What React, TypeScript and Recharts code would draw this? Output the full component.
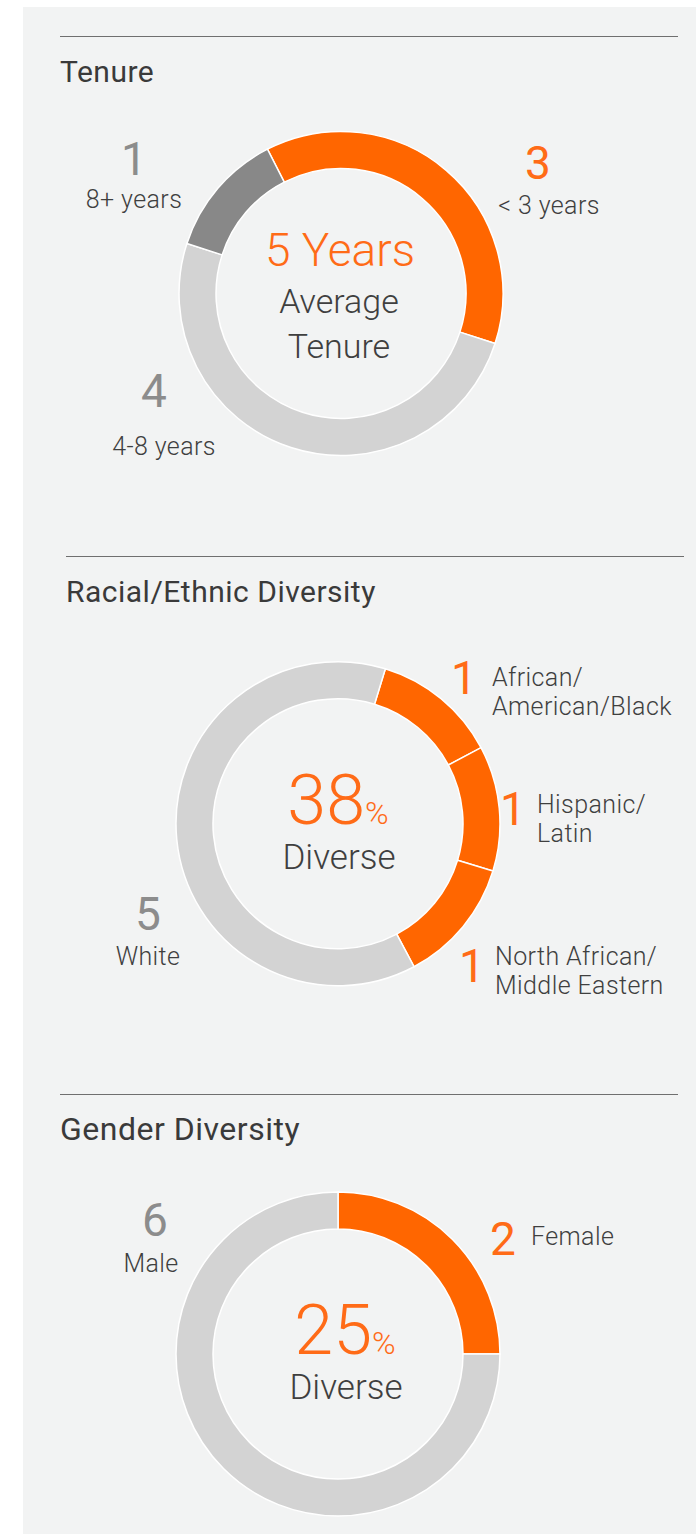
import React from "react";
import { PieChart, Pie, Cell } from "recharts";

// ---- data ----
const tenureNames = ["< 3 years", "4-8 years", "8+ years"];
const tenureValues = [3, 4, 1];
const tenureAverage = 5;

const racialNames = ["African/\nAmerican/Black", "Hispanic/\nLatin", "North African/\nMiddle Eastern", "White"];
const racialValues = [1, 1, 1, 5];

const genderNames = ["Female", "Male"];
const genderValues = [2, 6];

const ORANGE = "#ff6600";
const ORANGE_TEXT = "#ff6b17";
const LIGHT = "#d3d3d3";
const DARK = "#888888";
const GRAY_TEXT = "#8c8c8c";
const TEXT = "#3f3f3f";
const FONT = "Roboto, 'Noto Sans', sans-serif";

const tenureColors = [ORANGE, LIGHT, DARK];
const racialColors = [ORANGE, ORANGE, ORANGE, LIGHT];
const genderColors = [ORANGE, LIGHT];

// label placement (page pixels): number, then name
type Spot = { nx: number; ny: number; tx: number; ty: number; anchor: "start" | "middle" };
const tenureSpots: Spot[] = [
  { nx: 538, ny: 179, tx: 549, ty: 214, anchor: "middle" },
  { nx: 154, ny: 407, tx: 164, ty: 455, anchor: "middle" },
  { nx: 134, ny: 175, tx: 134, ty: 208, anchor: "middle" },
];
const racialSpots: Spot[] = [
  { nx: 464, ny: 694, tx: 492, ty: 686, anchor: "start" },
  { nx: 513, ny: 825, tx: 537, ty: 813, anchor: "start" },
  { nx: 472, ny: 982, tx: 495, ty: 965, anchor: "start" },
  { nx: 148, ny: 930, tx: 148, ty: 965, anchor: "middle" },
];
const genderSpots: Spot[] = [
  { nx: 503, ny: 1255, tx: 531, ty: 1245, anchor: "start" },
  { nx: 155, ny: 1236, tx: 151, ty: 1272, anchor: "middle" },
];

const build = (names: string[], values: number[]) =>
  names.map((name, i) => ({ name, value: values[i] }));

const makeLabel =
  (spots: Spot[], colors: string[], center: (cx: number, cy: number) => React.ReactNode) =>
  (props: any) => {
    const i = props.index;
    const s = spots[i];
    const lines = String(props.name).split("\n");
    return (
      <g key={"l" + i} fontFamily={FONT}>
        {i === 0 ? center(props.cx, props.cy) : null}
        <text x={s.nx} y={s.ny} textAnchor="middle" fontSize={46} fontWeight={400}
          fill={colors[i] === ORANGE ? ORANGE_TEXT : GRAY_TEXT}>
          {props.value}
        </text>
        <text x={s.tx} y={s.ty} textAnchor={s.anchor} fontSize={25} fontWeight={300}
          letterSpacing={0.4} fill={TEXT}>
          {lines.map((ln, k) => (
            <tspan key={k} x={s.tx} dy={k === 0 ? 0 : 28.5}>{ln}</tspan>
          ))}
        </text>
      </g>
    );
  };

const share = (values: number[], n: number) => {
  const total = values.reduce((a, b) => a + b, 0);
  const part = values.slice(0, n).reduce((a, b) => a + b, 0);
  return Math.round((part / total) * 100);
};

const Title = ({ x, y, x2, label, ty, size = 30 }: { x: number; y: number; x2: number; label: string; ty: number; size?: number }) => (
  <>
    <div style={{ position: "absolute", left: x, top: y, width: x2 - x, height: 1, background: "#6f6f6f" }} />
    <div style={{ position: "absolute", left: x, top: ty, fontSize: size, lineHeight: size + "px", letterSpacing: 0.5, color: "#3a3a3a", fontFamily: FONT, whiteSpace: "nowrap" }}>
      {label}
    </div>
  </>
);

const tenureCenter = (cx: number, cy: number) => (
  <g textAnchor="middle" fontWeight={300}>
    <text x={cx - 1} y={cy - 27.5} fontSize={46} fill={ORANGE_TEXT}>{tenureAverage} Years</text>
    <text x={cx - 2} y={cy + 19.5} fontSize={34} fill={TEXT}>Average</text>
    <text x={cx - 2} y={cy + 64.5} fontSize={34} fill={TEXT}>Tenure</text>
  </g>
);

const pctCenter = (pct: number, dx: number) => (cx: number, cy: number) => (
  <g textAnchor="middle" fontWeight={300}>
    <text x={cx + dx} y={cy} fill={ORANGE_TEXT}>
      <tspan fontSize={70}>{pct}</tspan>
      <tspan fontSize={32}>%</tspan>
    </text>
    <text x={cx + dx + 1} y={cy + 45} fontSize={35} fill={TEXT}>Diverse</text>
  </g>
);

export default function App() {
  const tenureData = build(tenureNames, tenureValues);
  const racialData = build(racialNames, racialValues);
  const genderData = build(genderNames, genderValues);
  const racialPct = share(racialValues, 3);
  const genderPct = share(genderValues, 1);

  return (
    <div style={{ position: "absolute", left: 0, top: 0, width: 696, height: 1535, background: "#fff", overflow: "hidden" }}>
      <div style={{ position: "absolute", left: 23, top: 7, width: 673, height: 1527, background: "#f2f3f3" }} />
      <Title x={60} y={36} x2={678} label="Tenure" ty={57} />
      <Title x={66} y={556} x2={684} label="Racial/Ethnic Diversity" ty={577} />
      <Title x={60} y={1094} x2={678} label="Gender Diversity" ty={1113} size={32} />
      <div style={{ position: "absolute", left: 0, top: 0 }}>
        <PieChart width={696} height={1535} margin={{ top: 0, right: 0, bottom: 0, left: 0 }}>
          <Pie data={tenureData} dataKey="value" nameKey="name" cx={341} cy={293.5}
            innerRadius={125} outerRadius={162} startAngle={117} endAngle={-243}
            stroke="#ffffff" strokeWidth={1.5} isAnimationActive={false}
            labelLine={false} label={makeLabel(tenureSpots, tenureColors, tenureCenter)}>
            {tenureData.map((d, i) => <Cell key={d.name} fill={tenureColors[i]} />)}
          </Pie>
          <Pie data={racialData} dataKey="value" nameKey="name" cx={338} cy={823.7}
            innerRadius={125} outerRadius={162} startAngle={73} endAngle={-287}
            stroke="#ffffff" strokeWidth={1.5} isAnimationActive={false}
            labelLine={false} label={makeLabel(racialSpots, racialColors, pctCenter(racialPct, 0))}>
            {racialData.map((d, i) => <Cell key={d.name} fill={racialColors[i]} />)}
          </Pie>
          <Pie data={genderData} dataKey="value" nameKey="name" cx={338} cy={1354}
            innerRadius={125} outerRadius={162} startAngle={90} endAngle={-270}
            stroke="#ffffff" strokeWidth={1.5} isAnimationActive={false}
            labelLine={false} label={makeLabel(genderSpots, genderColors, pctCenter(genderPct, 7))}>
            {genderData.map((d, i) => <Cell key={d.name} fill={genderColors[i]} />)}
          </Pie>
        </PieChart>
      </div>
    </div>
  );
}
